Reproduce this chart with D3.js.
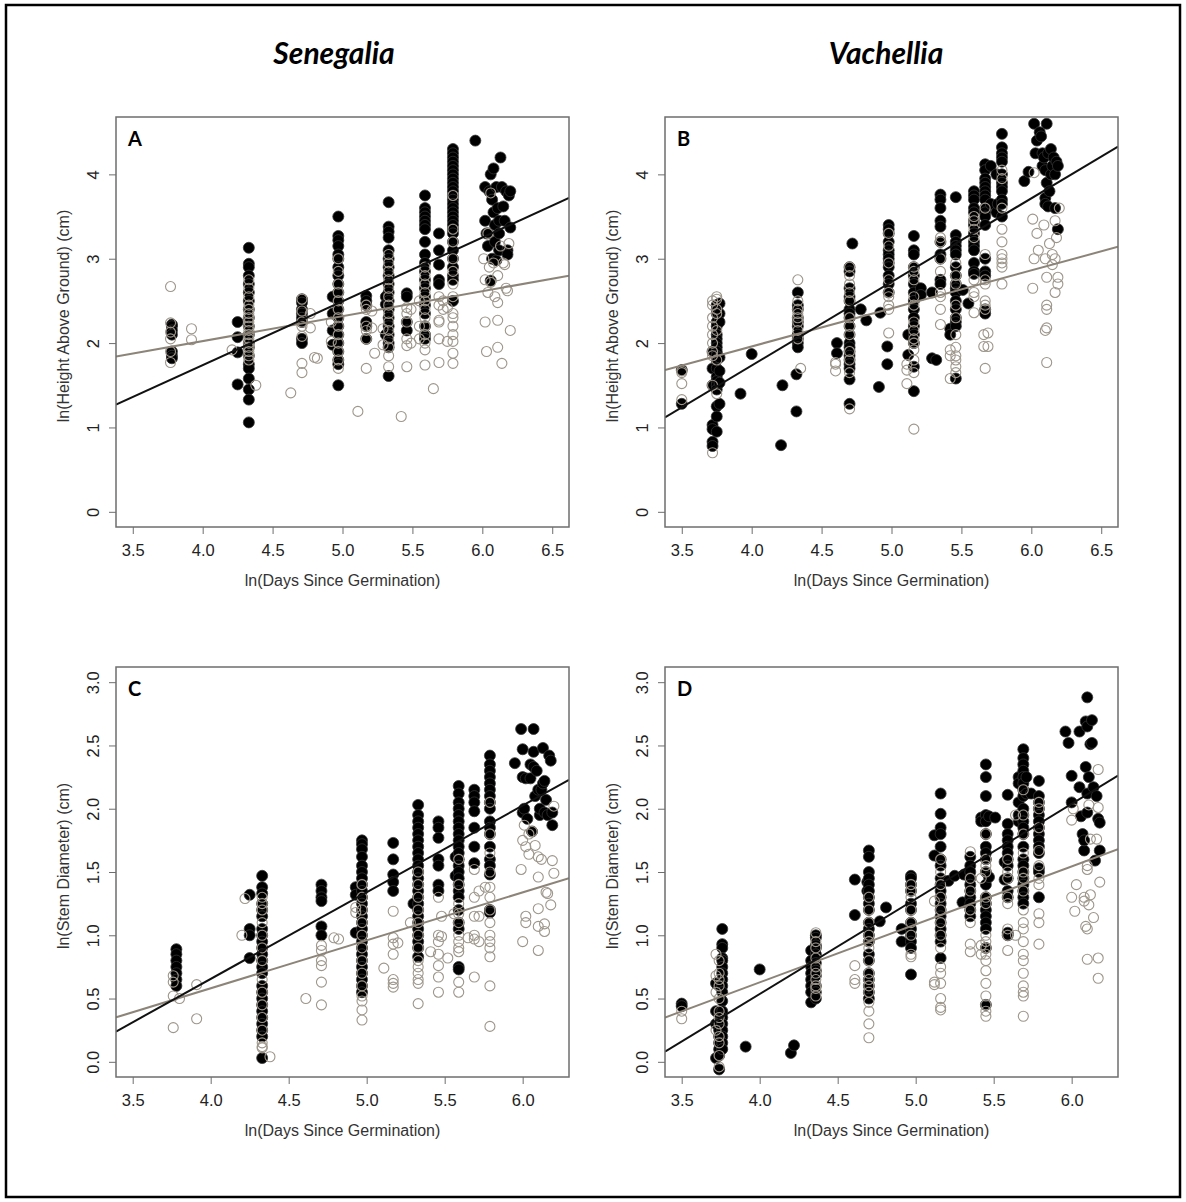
<!DOCTYPE html>
<html>
<head>
<meta charset="utf-8">
<script src="https://cdn.jsdelivr.net/npm/d3@7"></script>
<style>
  body { margin: 0; background: #fff; }
  text { font-family: "Liberation Sans", Arial, sans-serif; }
</style>
</head>
<body>
<svg id="chart" width="1186" height="1202"></svg>
<script>
// ---- data: each entry is [ln(days), [ln(value) ...]] ----

// Senegalia, height
const senHeightDark = [
  [3.78, [2.22, 2.20, 2.15, 2.10, 1.90, 1.85, 1.82]],
  [4.25, [2.25, 2.07, 1.89, 1.51]],
  [4.33, [3.13, 2.94, 2.90, 2.80, 2.70, 2.60, 2.50, 2.40, 2.30, 2.20, 2.10, 2.00, 1.95, 1.85, 1.75, 1.70, 1.58, 1.45, 1.33, 1.06]],
  [4.71, [2.52, 2.48, 2.40, 2.35, 2.30, 2.25, 2.05, 2.00]],
  [4.93, [2.55, 2.35, 2.15, 1.98]],
  [4.97, [3.50, 3.27, 3.22, 3.15, 3.05, 3.00, 2.90, 2.80, 2.70, 2.60, 2.50, 2.40, 2.30, 2.20, 2.10, 2.00, 1.90, 1.80, 1.75, 1.50]],
  [5.17, [2.56, 2.50, 2.45, 2.25, 2.20, 2.05]],
  [5.31, [2.55, 2.46, 2.10]],
  [5.33, [3.67, 3.38, 3.32, 3.25, 3.10, 3.00, 2.90, 2.80, 2.70, 2.60, 2.50, 2.40, 2.30, 2.20, 2.10, 2.00, 1.95, 1.61]],
  [5.46, [2.59, 2.55, 2.25, 2.15]],
  [5.59, [3.75, 3.60, 3.55, 3.50, 3.45, 3.40, 3.35, 3.20, 3.05, 2.95, 2.85, 2.75, 2.65, 2.55, 2.45, 2.35, 2.20, 2.10, 2.05]],
  [5.69, [3.30, 3.10, 2.93, 2.75, 2.70]],
  [5.79, [4.30, 4.25, 4.20, 4.15, 4.10, 4.05, 4.00, 3.95, 3.90, 3.85, 3.80, 3.75, 3.70, 3.65, 3.60, 3.55, 3.50, 3.45, 3.40, 3.35, 3.30, 3.20, 3.10, 3.00, 2.90, 2.80, 2.75, 2.50]],
  [5.95, [4.40]],
  [6.02, [3.85, 3.45]], [6.03, [3.30]], [6.04, [3.15, 3.30]], [6.05, [3.80]],
  [6.06, [4.00, 2.74]], [6.07, [3.70, 3.00]], [6.08, [4.07, 3.55]], [6.09, [3.40, 3.20]],
  [6.10, [3.85, 2.98]], [6.11, [3.60]], [6.12, [3.45, 3.30, 3.10]], [6.13, [4.20]],
  [6.14, [3.85]], [6.15, [3.62]], [6.16, [3.45]], [6.17, [3.80]], [6.18, [3.10, 3.05]],
  [6.19, [3.75]], [6.20, [3.80, 3.37]]
];
const senHeightLight = [
  [3.77, [2.67, 2.24, 2.13, 2.05, 1.90, 1.77]],
  [3.92, [2.17, 2.04]],
  [4.21, [1.92]],
  [4.33, [2.75, 2.65, 2.55, 2.45, 2.40, 2.35, 2.30, 2.25, 2.20, 2.15, 2.10, 2.05, 2.00, 1.95, 1.90, 1.85, 1.80]],
  [4.38, [1.50]],
  [4.63, [1.41]],
  [4.71, [2.52, 2.38, 2.25, 2.20, 2.08, 1.76, 1.65]],
  [4.77, [2.35, 2.18]], [4.80, [1.83]], [4.82, [1.82]],
  [4.92, [2.02, 2.25]],
  [4.97, [3.00, 2.85, 2.70, 2.60, 2.50, 2.40, 2.30, 2.20, 2.10, 2.00, 1.90, 1.80, 1.70]],
  [5.11, [1.19]],
  [5.17, [2.45, 2.40, 2.20, 2.15, 2.05, 1.70]],
  [5.21, [2.38, 2.18]], [5.23, [1.88]],
  [5.29, [2.17, 1.98]],
  [5.33, [3.05, 2.95, 2.85, 2.75, 2.65, 2.55, 2.45, 2.35, 2.25, 2.15, 2.05, 1.95, 1.85, 1.72]],
  [5.42, [1.13]],
  [5.46, [2.42, 2.35, 2.25, 2.05, 1.97, 1.72]],
  [5.49, [2.40, 2.00]],
  [5.55, [2.50, 2.20, 2.05]],
  [5.59, [2.90, 2.80, 2.70, 2.60, 2.50, 2.40, 2.30, 2.20, 2.10, 2.00, 1.92, 1.74]],
  [5.65, [1.46]],
  [5.69, [2.55, 2.45, 2.27, 2.25, 2.05, 1.77]],
  [5.72, [2.50, 2.40]], [5.75, [2.42, 2.02]],
  [5.79, [3.75, 3.35, 3.20, 3.00, 2.85, 2.70, 2.55, 2.35, 2.30, 2.20, 2.10, 2.02, 1.88, 1.76]],
  [6.01, [3.00]], [6.02, [2.75, 2.25]], [6.03, [1.90]], [6.04, [2.60, 3.30]], [6.05, [2.90]],
  [6.06, [2.72, 3.78]], [6.08, [2.95]], [6.09, [2.55]], [6.11, [2.80, 2.48, 2.27, 1.95]],
  [6.13, [3.15]], [6.14, [1.76]], [6.15, [2.95]], [6.16, [2.93]], [6.17, [2.65]],
  [6.18, [2.62]], [6.19, [3.18]], [6.20, [2.15]]
];

// Vachellia, height
const vacHeightDark = [
  [3.50, [1.68, 1.28]],
  [3.72, [1.90, 1.70, 1.50, 1.03, 0.98, 0.83, 0.78]],
  [3.75, [2.45, 2.40, 2.35, 2.25, 2.20, 2.10, 2.05, 2.00, 1.95, 1.90, 1.85, 1.80, 1.70, 1.60, 1.55, 1.50, 1.45, 1.25, 1.13, 0.95]],
  [3.77, [2.47, 2.35, 2.25, 1.83, 1.67, 1.53, 1.28]],
  [3.92, [1.40]], [4.00, [1.87]], [4.21, [0.79]], [4.22, [1.50]],
  [4.32, [1.63, 1.19]],
  [4.33, [2.60, 2.45, 2.40, 2.30, 2.25, 2.20, 2.10, 2.05, 2.00, 1.95]],
  [4.61, [2.00, 1.88]],
  [4.70, [2.90, 2.85, 2.65, 2.55, 2.50, 2.40, 2.35, 2.30, 2.20, 2.10, 2.00, 1.95, 1.90, 1.85, 1.80, 1.75, 1.70, 1.57, 1.28]],
  [4.72, [3.18]], [4.78, [2.40]], [4.82, [2.27]], [4.91, [1.48]], [4.92, [2.36]],
  [4.97, [1.96, 1.75]],
  [4.98, [3.40, 3.35, 3.30, 3.20, 3.10, 3.05, 3.00, 2.95, 2.90, 2.80, 2.70, 2.60]],
  [5.12, [2.10, 1.86]],
  [5.16, [3.27, 3.10, 3.05, 2.90, 2.80, 2.70, 2.60, 2.50, 2.40, 2.30, 2.20, 2.10, 2.00, 1.72, 1.43]],
  [5.21, [2.65, 2.57]], [5.29, [2.60, 1.82]], [5.32, [1.80]],
  [5.35, [3.76, 3.70, 3.60, 3.45, 3.38, 3.20, 3.05, 3.00, 2.75, 2.70]],
  [5.42, [2.17, 2.10]],
  [5.46, [3.73, 3.28, 3.20, 3.15, 3.10, 3.05, 2.90, 2.80, 2.70, 2.65, 2.60, 2.50, 2.40, 2.30, 2.25, 2.20, 1.58]],
  [5.51, [2.63]], [5.55, [2.47]],
  [5.59, [3.80, 3.75, 3.70, 3.60, 3.55, 3.45, 3.40, 3.30, 3.20, 3.15, 3.10, 2.95, 2.85, 2.82]],
  [5.67, [4.12, 4.05, 3.95, 3.90, 3.85, 3.80, 3.75, 3.70, 3.60, 3.55, 3.50, 3.40, 3.00, 2.85, 2.80, 2.40, 2.35]],
  [5.71, [3.65, 4.10]], [5.75, [4.00, 3.55]], [5.76, [3.65]],
  [5.79, [4.48, 4.32, 4.25, 4.20, 4.15, 4.00, 3.90, 3.85, 3.80, 3.70, 3.65, 3.50]],
  [5.95, [3.92]], [5.98, [4.03]], [6.02, [4.60]], [6.03, [4.25]], [6.04, [4.40]],
  [6.06, [4.50]], [6.07, [4.45]], [6.08, [4.25, 4.10]], [6.09, [4.20]],
  [6.10, [4.05, 3.72, 3.65]], [6.11, [4.60, 3.90]], [6.12, [4.25, 3.62]], [6.13, [3.80]],
  [6.14, [4.30, 4.00]], [6.15, [4.10]], [6.16, [4.20]], [6.17, [3.60, 4.00]],
  [6.18, [4.15]], [6.19, [4.10, 3.35]]
];
const vacHeightLight = [
  [3.50, [1.67, 1.52, 1.33, 1.65]],
  [3.72, [2.50, 2.45, 2.30, 2.20, 2.10, 2.00, 1.90, 1.85, 1.50, 0.70]],
  [3.75, [2.55, 2.52, 2.40, 2.35, 2.15, 1.80, 1.40]],
  [4.33, [2.75, 2.50, 2.40, 2.35, 2.30, 2.25, 2.15, 2.05]],
  [4.35, [1.70]],
  [4.60, [1.77, 1.67, 1.75]],
  [4.70, [2.90, 2.80, 2.70, 2.60, 2.50, 2.30, 2.20, 2.10, 1.90, 1.80, 1.65, 1.22]],
  [4.98, [3.30, 3.15, 2.95, 2.75, 2.60, 2.55, 2.45, 2.40, 2.12]],
  [5.11, [1.75, 1.68, 1.52]],
  [5.16, [2.90, 2.85, 2.75, 2.55, 2.45, 2.25, 2.15, 2.05, 2.00, 1.92, 1.80, 1.65, 0.98]],
  [5.35, [3.25, 3.20, 3.00, 2.85, 2.60, 2.55, 2.40, 2.22]],
  [5.42, [1.92, 1.58, 1.85]],
  [5.46, [2.95, 2.80, 2.70, 2.45, 2.30, 2.10, 1.95, 1.85, 1.80, 1.72, 1.65]],
  [5.59, [3.50, 3.45, 3.35, 3.25, 2.75, 2.60, 2.55, 2.36]],
  [5.66, [2.10, 1.96]],
  [5.67, [3.60, 3.05, 2.75, 2.70, 2.50, 2.45, 2.40, 1.70]],
  [5.69, [2.12, 1.96]],
  [5.79, [4.05, 3.95, 3.60, 3.35, 3.20, 3.05, 3.00, 2.95, 2.90, 2.70]],
  [6.01, [3.47, 2.65]], [6.02, [4.02, 3.00]], [6.04, [3.30]], [6.05, [3.10]],
  [6.09, [3.40]], [6.10, [3.00, 2.15]], [6.11, [2.78, 2.45, 2.40, 2.18, 1.77]],
  [6.13, [3.18]], [6.15, [2.93, 3.05]], [6.17, [3.45, 3.00, 2.60]], [6.18, [3.25]],
  [6.19, [2.78, 2.70]], [6.20, [3.60]]
];

// Senegalia, stem diameter
const senStemDark = [
  [3.78, [0.89, 0.85, 0.80, 0.75, 0.70, 0.65, 0.60]],
  [4.25, [1.32, 1.05, 1.00, 0.82]],
  [4.33, [1.47, 1.38, 1.33, 1.25, 1.20, 1.15, 1.05, 1.00, 0.95, 0.90, 0.85, 0.80, 0.75, 0.70, 0.60, 0.55, 0.50, 0.45, 0.40, 0.35, 0.30, 0.25, 0.20, 0.03]],
  [4.71, [1.40, 1.35, 1.30, 1.27, 1.07, 1.00]],
  [4.93, [1.38, 1.32, 1.02]],
  [4.97, [1.75, 1.72, 1.68, 1.62, 1.55, 1.50, 1.45, 1.40, 1.35, 1.30, 1.25, 1.20, 1.15, 1.10, 1.05, 1.00, 0.95, 0.90, 0.85, 0.80, 0.75, 0.70, 0.65, 0.60, 0.55]],
  [5.17, [1.73, 1.60, 1.48, 1.42, 1.35]],
  [5.30, [1.25]],
  [5.33, [2.03, 1.95, 1.90, 1.85, 1.80, 1.75, 1.70, 1.65, 1.60, 1.55, 1.50, 1.45, 1.40, 1.35, 1.30, 1.25, 1.20, 1.15, 1.10, 1.05, 1.00, 0.95, 0.90, 0.83]],
  [5.46, [1.90, 1.85, 1.77, 1.60, 1.55, 1.40, 1.35]],
  [5.57, [1.62, 1.47]],
  [5.59, [2.18, 2.12, 2.05, 2.00, 1.95, 1.90, 1.85, 1.80, 1.75, 1.70, 1.65, 1.60, 1.55, 1.50, 1.45, 1.40, 1.35, 1.30, 1.20, 1.10, 1.05, 0.75, 0.73]],
  [5.69, [2.15, 2.10, 2.05, 1.98, 1.85, 1.70, 1.57]],
  [5.79, [2.42, 2.35, 2.30, 2.25, 2.20, 2.15, 2.10, 2.05, 2.00, 1.90, 1.85, 1.80, 1.70, 1.60, 1.55, 1.48, 1.20, 1.18]],
  [5.95, [2.36]], [5.99, [2.63]], [6.00, [2.47, 2.25, 1.97]], [6.01, [2.00]],
  [6.02, [2.24]], [6.03, [1.92]], [6.05, [2.35, 2.24]], [6.06, [1.82]],
  [6.07, [2.63, 2.45, 2.33]], [6.08, [2.10]], [6.09, [2.30]], [6.10, [2.15]],
  [6.11, [1.95, 2.00]], [6.12, [2.15]], [6.13, [2.48, 2.20]], [6.14, [1.97, 2.22]],
  [6.15, [2.07]], [6.16, [1.95]], [6.17, [2.42]], [6.18, [2.38]], [6.19, [1.97, 1.87]]
];
const senStemLight = [
  [3.76, [0.68, 0.63, 0.52, 0.27]],
  [3.80, [0.50]],
  [3.91, [0.61, 0.34]],
  [4.20, [1.00]], [4.22, [1.29]],
  [4.33, [1.30, 1.25, 1.20, 1.10, 1.00, 0.90, 0.80, 0.65, 0.55, 0.45, 0.35, 0.25, 0.15, 0.12, 0.11]],
  [4.38, [0.04]],
  [4.61, [0.50]],
  [4.71, [0.92, 0.88, 0.80, 0.76, 0.63, 0.45]],
  [4.79, [0.98]], [4.82, [0.97]],
  [4.93, [1.22, 1.18]],
  [4.97, [1.40, 1.30, 1.20, 1.10, 1.00, 0.90, 0.80, 0.70, 0.60, 0.52, 0.48, 0.41, 0.33]],
  [5.11, [0.74]],
  [5.17, [1.19, 0.98, 0.93, 0.85, 0.65, 0.62, 0.59]],
  [5.20, [0.94]],
  [5.28, [1.10]],
  [5.33, [1.50, 1.40, 1.30, 1.20, 1.10, 1.00, 0.90, 0.80, 0.75, 0.70, 0.65, 0.62, 0.46]],
  [5.41, [0.87]],
  [5.46, [1.30, 1.00, 0.95, 0.85, 0.76, 0.67, 0.55]],
  [5.48, [1.15, 0.99]], [5.52, [0.82]], [5.56, [1.17]],
  [5.59, [1.60, 1.40, 1.25, 1.17, 1.10, 1.00, 0.95, 0.90, 0.87, 0.63, 0.55]],
  [5.65, [0.98]],
  [5.69, [1.52, 1.30, 1.15, 1.00, 0.97, 0.67]],
  [5.72, [1.35, 1.15, 0.95]],
  [5.76, [1.38]],
  [5.79, [2.05, 1.80, 1.65, 1.50, 1.38, 1.30, 1.20, 1.10, 1.00, 0.95, 0.90, 0.83, 0.60, 0.28]],
  [5.99, [1.52]], [6.00, [0.95, 1.75]], [6.01, [1.87]], [6.02, [1.70, 1.15, 1.10]],
  [6.04, [1.64, 1.80]], [6.06, [1.82]], [6.08, [1.71]], [6.10, [1.62, 1.46, 1.21, 1.07, 0.88]],
  [6.12, [1.60]], [6.14, [1.09, 1.03]], [6.15, [1.34]], [6.16, [1.33]], [6.18, [1.24]],
  [6.19, [1.59]], [6.20, [1.49, 2.02]]
];

// Vachellia, stem diameter
const vacStemDark = [
  [3.50, [0.46, 0.44]],
  [3.72, [0.62, 0.40, 0.30, 0.03]],
  [3.74, [0.60, 0.38, 0.25, 0.20, 0.15, 0.10, 0.05, -0.06]],
  [3.76, [1.05, 0.93, 0.90, 0.82, 0.80, 0.75, 0.70, 0.65, 0.60, 0.55, 0.48, 0.40, 0.35, 0.30, 0.25, 0.20, 0.15, 0.10]],
  [3.91, [0.12]], [4.00, [0.73]], [4.20, [0.07]], [4.22, [0.13]],
  [4.33, [0.88, 0.80, 0.75, 0.70, 0.65, 0.60, 0.55, 0.47]],
  [4.36, [1.00, 0.98, 0.92, 0.90, 0.85, 0.78, 0.72, 0.68, 0.60, 0.55, 0.50]],
  [4.61, [1.44, 1.16]],
  [4.69, [1.42, 1.35]],
  [4.70, [1.67, 1.62, 1.50, 1.45, 1.40, 1.35, 1.30, 1.25, 1.20, 1.10, 1.05, 1.00, 0.95, 0.85, 0.80, 0.70, 0.65, 0.60, 0.55, 0.50]],
  [4.77, [1.11]], [4.81, [1.22]], [4.91, [1.05, 0.95]],
  [4.97, [1.47, 1.45, 1.40, 1.35, 1.25, 1.20, 1.10, 1.05, 1.00, 0.95, 0.90, 0.69]],
  [5.12, [1.79, 1.63]],
  [5.16, [2.12, 1.96, 1.85, 1.80, 1.70, 1.60, 1.55, 1.45, 1.40, 1.35, 1.30, 1.25, 1.20, 1.15, 1.10, 1.05, 1.00, 0.95, 0.82]],
  [5.21, [1.43]], [5.25, [1.47]], [5.30, [1.26]], [5.31, [1.48]],
  [5.35, [1.62, 1.55, 1.50, 1.45, 1.40, 1.35, 1.30, 1.25, 1.20, 1.15]],
  [5.42, [1.93, 1.90]],
  [5.45, [2.35, 2.25, 2.10, 1.95, 1.90, 1.80, 1.70, 1.65, 1.60, 1.50, 1.40, 1.30, 1.25, 1.20, 1.15, 1.10, 1.05, 0.90, 0.45]],
  [5.47, [1.94, 1.46]], [5.51, [1.93]],
  [5.57, [1.58, 1.44]],
  [5.59, [2.11, 1.88, 1.80, 1.75, 1.70, 1.65, 1.60, 1.55, 1.45, 1.35, 1.30, 1.02, 1.00]],
  [5.66, [2.25, 2.20, 2.05, 1.95, 1.90]],
  [5.69, [2.47, 2.40, 2.35, 2.30, 2.25, 2.20, 2.15, 2.10, 2.00, 1.95, 1.90, 1.85, 1.80, 1.70, 1.60, 1.55, 1.50, 1.45, 1.40, 1.35, 1.30, 1.25]],
  [5.71, [2.25, 2.12]], [5.74, [2.12]],
  [5.79, [2.22, 2.10, 2.05, 2.00, 1.95, 1.90, 1.85, 1.80, 1.75, 1.70, 1.65, 1.53, 1.50, 1.30]],
  [5.96, [2.61]], [5.98, [2.52]], [6.00, [2.26, 2.05]], [6.05, [2.61, 2.17]],
  [6.06, [1.94]], [6.07, [1.80]], [6.08, [1.67, 1.75]], [6.09, [2.69, 2.33]],
  [6.10, [2.88, 2.65, 1.97, 2.12]], [6.11, [2.25]], [6.12, [2.51]], [6.13, [2.70, 2.52]],
  [6.14, [2.17]], [6.15, [1.59]], [6.16, [2.10]], [6.17, [1.92]], [6.18, [1.89, 1.67]]
];
const vacStemLight = [
  [3.50, [0.40, 0.34]],
  [3.72, [0.85, 0.68, 0.55, 0.25]],
  [3.74, [0.80, 0.70, 0.65, 0.60, 0.50, 0.40, 0.35, 0.30, 0.20, 0.15, 0.05, -0.04]],
  [4.36, [1.02, 0.95, 0.90, 0.82, 0.75, 0.70, 0.65, 0.60, 0.58, 0.52]],
  [4.61, [0.76, 0.65, 0.62]],
  [4.70, [1.30, 1.20, 1.10, 1.00, 0.95, 0.90, 0.80, 0.70, 0.65, 0.60, 0.55, 0.47, 0.40, 0.30, 0.19]],
  [4.97, [1.40, 1.35, 1.30, 1.20, 1.10, 1.00, 0.85, 0.83]],
  [5.12, [1.27, 0.63, 0.61]],
  [5.16, [1.60, 1.50, 1.40, 1.30, 1.20, 1.10, 1.00, 0.90, 0.75, 0.70, 0.62, 0.50, 0.43, 0.41]],
  [5.35, [1.66, 1.45, 1.35, 1.20, 1.10, 0.93, 0.87]],
  [5.42, [1.45, 0.92, 0.85]],
  [5.45, [1.80, 1.60, 1.55, 1.50, 1.30, 1.25, 1.00, 0.95, 0.90, 0.85, 0.80, 0.72, 0.62, 0.52, 0.45, 0.40, 0.36]],
  [5.59, [1.60, 1.50, 1.45, 1.30, 1.25, 1.05, 1.00, 0.88]],
  [5.64, [1.95, 1.00]],
  [5.69, [2.15, 1.95, 1.80, 1.65, 1.50, 1.45, 1.35, 1.20, 1.10, 1.05, 0.95, 0.85, 0.80, 0.70, 0.60, 0.55, 0.52, 0.36]],
  [5.79, [2.05, 2.00, 1.85, 1.67, 1.55, 1.45, 1.40, 1.17, 1.10, 0.93]],
  [6.00, [1.91, 1.30]], [6.01, [2.00]], [6.02, [1.19]], [6.03, [1.40]],
  [6.08, [1.30, 1.27]], [6.09, [1.07]], [6.10, [1.05, 1.55, 1.52, 0.81]],
  [6.11, [1.24, 2.03]], [6.12, [1.76, 1.32]], [6.14, [1.14]], [6.16, [1.76]],
  [6.17, [2.01, 2.31, 0.82, 0.66]], [6.18, [1.42]]
];

// fitted lines, [intercept, slope]
const fitSenHeight = { dark: [-1.285, 0.756], light: [0.839, 0.296] };
const fitVacHeight = { dark: [-2.23, 0.991], light: [0.156, 0.451] };
const fitSenStem   = { dark: [-2.085, 0.685], light: [-0.935, 0.379] };
const fitVacStem   = { dark: [-2.468, 0.751], light: [-1.204, 0.458] };

const genera = ['Senegalia', 'Vachellia'];
const panelLetters = ['A', 'B', 'C', 'D'];
const xTicksHeight = [3.5, 4.0, 4.5, 5.0, 5.5, 6.0, 6.5];
const xTicksStem = [3.5, 4.0, 4.5, 5.0, 5.5, 6.0];
const yTicksHeight = [0, 1, 2, 3, 4];
const yTicksStem = [0, 0.5, 1.0, 1.5, 2.0, 2.5, 3.0];
const xLabel = 'ln(Days Since Germination)';
const yLabelHeight = 'ln(Height Above Ground) (cm)';
const yLabelStem = 'ln(Stem Diameter) (cm)';

// flatten [x, [ys]] groups to points
const flat = (groups) => groups.flatMap(([x, ys]) => ys.map((y) => ({ x, y })));

const svg = d3.select('#chart');

// outer frame
svg.append('rect')
  .attr('x', 6).attr('y', 5)
  .attr('width', 1174).attr('height', 1192)
  .attr('fill', 'none')
  .attr('stroke', '#000')
  .attr('stroke-width', 2.5);

// genus titles
svg.selectAll('text.genus')
  .data(genera)
  .join('text')
  .attr('class', 'genus')
  .attr('x', (d, i) => [334, 886][i])
  .attr('y', 64)
  .attr('text-anchor', 'middle')
  .style('font-family', 'Lato, "Open Sans", sans-serif')
  .style('font-weight', 'bold')
  .style('font-style', 'italic')
  .style('font-size', '30px')
  .attr('fill', '#000')
  .text((d) => d);

const cols = [116, 665];
const rows = [117, 667];
const boxW = 453;
const boxH = 410;

const panels = [
  { dark: senHeightDark, light: senHeightLight, fit: fitSenHeight, xd: [3.38, 6.62], yd: [-0.18, 4.68], xt: xTicksHeight, yt: yTicksHeight, yl: yLabelHeight, yf: d3.format('d') },
  { dark: vacHeightDark, light: vacHeightLight, fit: fitVacHeight, xd: [3.38, 6.62], yd: [-0.18, 4.68], xt: xTicksHeight, yt: yTicksHeight, yl: yLabelHeight, yf: d3.format('d') },
  { dark: senStemDark, light: senStemLight, fit: fitSenStem, xd: [3.393, 6.297], yd: [-0.12, 3.12], xt: xTicksStem, yt: yTicksStem, yl: yLabelStem, yf: d3.format('.1f') },
  { dark: vacStemDark, light: vacStemLight, fit: fitVacStem, xd: [3.393, 6.297], yd: [-0.12, 3.12], xt: xTicksStem, yt: yTicksStem, yl: yLabelStem, yf: d3.format('.1f') }
];

panels.forEach((p, i) => {
  const left = cols[i % 2];
  const top = rows[Math.floor(i / 2)];
  const x = d3.scaleLinear().domain(p.xd).range([0, boxW]);
  const y = d3.scaleLinear().domain(p.yd).range([boxH, 0]);

  const g = svg.append('g').attr('transform', `translate(${left},${top})`);

  g.append('clipPath').attr('id', 'clip' + i)
    .append('rect').attr('width', boxW).attr('height', boxH);

  // axes
  const xAxis = g.append('g')
    .attr('transform', `translate(0,${boxH})`)
    .call(d3.axisBottom(x).tickValues(p.xt).tickFormat(d3.format('.1f')).tickSize(7).tickPadding(6));
  const yAxis = g.append('g')
    .call(d3.axisLeft(y).tickValues(p.yt).tickFormat(p.yf).tickSize(7).tickPadding(6));
  [xAxis, yAxis].forEach((ax) => {
    ax.attr('font-family', null).attr('font-size', null);
    ax.select('.domain').remove();
    ax.selectAll('line').attr('stroke', '#6e6e6e');
    ax.selectAll('text').attr('fill', '#222').style('font-size', '16.5px');
  });
  // y tick labels run parallel to the axis
  yAxis.selectAll('.tick text')
    .attr('x', null).attr('dy', null)
    .attr('text-anchor', 'middle')
    .attr('transform', 'translate(-23,0) rotate(-90)')
    .attr('dominant-baseline', 'central');
  xAxis.selectAll('.tick text').attr('dy', null).attr('y', 22.6).attr('dominant-baseline', 'central');

  const plot = g.append('g').attr('clip-path', `url(#clip${i})`);

  plot.selectAll('circle.dark')
    .data(flat(p.dark))
    .join('circle')
    .attr('class', 'dark')
    .attr('cx', (d) => x(d.x))
    .attr('cy', (d) => y(d.y))
    .attr('r', 5.5)
    .attr('fill', '#000')
    .attr('stroke', '#333')
    .attr('stroke-width', 0.8);

  plot.selectAll('circle.light')
    .data(flat(p.light))
    .join('circle')
    .attr('class', 'light')
    .attr('cx', (d) => x(d.x))
    .attr('cy', (d) => y(d.y))
    .attr('r', 5)
    .attr('fill', 'none')
    .attr('stroke', '#9d968b')
    .attr('stroke-width', 1.1);

  const fitLine = (coef) => p.xd.map((v) => [x(v), y(coef[0] + coef[1] * v)]);
  plot.append('path')
    .attr('d', d3.line()(fitLine(p.fit.light)))
    .attr('stroke', '#8c8478')
    .attr('stroke-width', 2)
    .attr('fill', 'none');
  plot.append('path')
    .attr('d', d3.line()(fitLine(p.fit.dark)))
    .attr('stroke', '#111')
    .attr('stroke-width', 2)
    .attr('fill', 'none');

  // box
  g.append('rect')
    .attr('width', boxW).attr('height', boxH)
    .attr('fill', 'none')
    .attr('stroke', '#6e6e6e')
    .attr('stroke-width', 1.5);

  // panel letter
  g.append('text')
    .attr('x', 12).attr('y', 28.5)
    .style('font-family', 'Lato, "Open Sans", sans-serif')
    .style('font-weight', 'bold')
    .style('font-size', '20px')
    .attr('fill', '#000')
    .text(panelLetters[i]);

  // axis titles
  g.append('text')
    .attr('x', boxW / 2).attr('y', boxH + 53)
    .attr('text-anchor', 'middle')
    .attr('dominant-baseline', 'central')
    .style('font-size', '16px')
    .attr('fill', '#333')
    .text(xLabel);
  g.append('text')
    .attr('transform', `translate(-53,${boxH / 2 - 6}) rotate(-90)`)
    .attr('text-anchor', 'middle')
    .attr('dominant-baseline', 'central')
    .style('font-size', '16px')
    .attr('fill', '#333')
    .text(p.yl);
});
</script>
</body>
</html>
